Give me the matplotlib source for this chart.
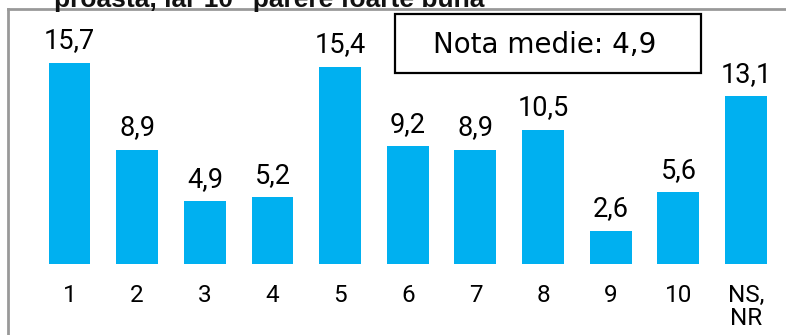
import matplotlib.pyplot as plt
from matplotlib.patches import Rectangle

categories = ["1", "2", "3", "4", "5", "6", "7", "8", "9", "10", "NS,\nNR"]
values = [15.7, 8.9, 4.9, 5.2, 15.4, 9.2, 8.9, 10.5, 2.6, 5.6, 13.1]
value_labels = ["15,7", "8,9", "4,9", "5,2", "15,4", "9,2", "8,9", "10,5", "2,6", "5,6", "13,1"]
title = "proastă, iar 10 \"părere foarte bună\""
mean_text = "Nota medie: 4,9"

W, H = 786, 335
label_font = ["Roboto", "DejaVu Sans"]

fig = plt.figure(figsize=(W / 100, H / 100), dpi=100)
ax = fig.add_axes([8 / W, 0, 778 / W, 326 / H])

x = list(range(len(values)))
ax.bar(x, values, width=0.62, color="#00B0F0")
ax.set_xlim(-0.909, 10.59)
ax.set_ylim(-5.55, 19.92)

for i, (v, lab) in enumerate(zip(values, value_labels)):
    ax.annotate(lab, (i, v), xytext=(0, 10.5), textcoords="offset points",
                ha="center", va="baseline", fontsize=19.5, color="#000000",
                family=label_font)

for i, c in enumerate(categories):
    ax.text(i, -1.6, c, ha="center", va="top", fontsize=17.5, color="#000000",
            linespacing=1.0, family=label_font)

# mean score box
fig.add_artist(Rectangle((395 / W, 1 - 73 / H), 306 / W, 59 / H,
                         transform=fig.transFigure, fc="white", ec="black", lw=1.6))
fig.text(545 / W, 1 - 45 / H, mean_text, ha="center", va="center", fontsize=20,
         color="#000000")

for s in ["right", "bottom"]:
    ax.spines[s].set_visible(False)
for s in ["left", "top"]:
    ax.spines[s].set_color("#999999")
    ax.spines[s].set_linewidth(2)
ax.set_xticks([])
ax.set_yticks([])

fig.text(497 / W, 1 - 7 / H, title, ha="right", va="baseline", fontsize=19,
         fontweight="bold", family="Liberation Sans", color="#111111")

fig.savefig("out.png", dpi=100)
